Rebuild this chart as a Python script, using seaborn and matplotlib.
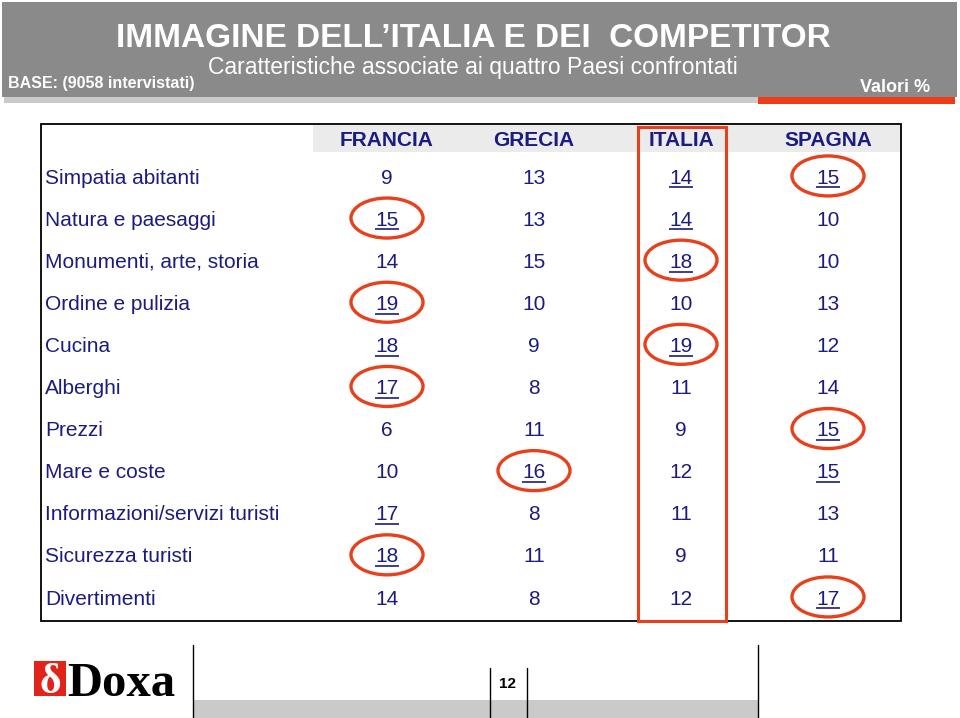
import numpy as np
import pandas as pd
import matplotlib
matplotlib.use("Agg")
import matplotlib.pyplot as plt
import matplotlib.transforms as mtransforms
from matplotlib.colors import ListedColormap
from matplotlib.patches import Rectangle, Ellipse
import seaborn as sns

# data
categories = ['Simpatia abitanti', 'Natura e paesaggi', 'Monumenti, arte, storia',
              'Ordine e pulizia', 'Cucina', 'Alberghi', 'Prezzi', 'Mare e coste',
              'Informazioni/servizi turisti', 'Sicurezza turisti', 'Divertimenti']
countries = ['FRANCIA', 'GRECIA', 'ITALIA', 'SPAGNA']
francia = [9, 15, 14, 19, 18, 17, 6, 10, 17, 18, 14]
grecia = [13, 13, 15, 10, 9, 8, 11, 16, 8, 11, 8]
italia = [14, 14, 18, 10, 19, 11, 9, 12, 11, 9, 12]
spagna = [15, 10, 10, 13, 12, 14, 15, 15, 13, 11, 17]

# (row, column) of underlined and circled values
underlined = [(0, 2), (0, 3), (1, 0), (1, 2), (2, 2), (3, 0), (4, 0), (4, 2),
              (5, 0), (6, 3), (7, 1), (7, 3), (8, 0), (9, 0), (10, 3)]
circled = [(0, 3), (1, 0), (2, 2), (3, 0), (4, 2), (5, 0), (6, 3), (7, 1),
           (9, 0), (10, 3)]

title = "IMMAGINE DELL\u2019ITALIA E DEI  COMPETITOR"
subtitle = "Caratteristiche associate ai quattro Paesi confrontati"
base_txt = "BASE: (9058 intervistati)"
unit_txt = "Valori %"
page_no = "12"

sns.set_theme(style="white")
plt.rcParams['font.family'] = ['Liberation Sans', 'DejaVu Sans']

NAVY = '#1c1c80'
RED = '#e8401c'
W, H = 960, 718

df = pd.DataFrame({'FRANCIA': francia, 'GRECIA': grecia,
                   'ITALIA': italia, 'SPAGNA': spagna}, index=categories)

fig = plt.figure(figsize=(W / 100, H / 100), dpi=100)

# table body as a heatmap (white cells, annotated values)
top, row_h = 157, 42.1
left, col_w = 313.5, 147
n_rows, n_cols = df.shape
hm = fig.add_axes([left / W, 1 - (top + row_h * n_rows) / H,
                   col_w * n_cols / W, row_h * n_rows / H])
sns.heatmap(df, ax=hm, cmap=ListedColormap(['white']), cbar=False,
            annot=True, fmt='d', xticklabels=False, yticklabels=False,
            annot_kws={'color': NAVY, 'fontsize': 15})
hm.tick_params(left=False, bottom=False)

for r, c in underlined:
    hm.plot([c + 0.5 - 0.08, c + 0.5 + 0.08], [r + 0.72, r + 0.72],
            color=NAVY, lw=1.2, clip_on=False, solid_capstyle='butt')
for r, c in circled:
    hm.add_patch(Ellipse((c + 0.5, r + 0.45), 0.49, 0.95, fill=False,
                         edgecolor=RED, lw=2.4, clip_on=False))

# overlay in pixel coordinates for the slide furniture
ax = fig.add_axes([0, 0, 1, 1], zorder=3)
ax.set_xlim(0, W)
ax.set_ylim(H, 0)
ax.axis('off')
ax.patch.set_visible(False)

# header band
ax.add_patch(Rectangle((2, 2), 955, 95, color='#8a8a8a', lw=0))
ax.add_patch(Rectangle((4, 97), 754, 6, color='#cacaca', lw=0))
ax.add_patch(Rectangle((758, 97), 197, 7, color='#f03c14', lw=0))
ax.text(473, 47, title, color='white', fontsize=24, fontweight='bold',
        ha='center', va='baseline')
ax.text(473, 74, subtitle, color='white', fontsize=16.5,
        ha='center', va='baseline')
ax.text(8, 88, base_txt, color='white', fontsize=11.5, fontweight='bold',
        ha='left', va='baseline')
ax.text(930, 92, unit_txt, color='white', fontsize=13, fontweight='bold',
        ha='right', va='baseline')

# table frame and column header
ax.add_patch(Rectangle((313, 125), 587, 27, color='#ebebeb', lw=0))
ax.add_patch(Rectangle((41, 124), 860, 497, fill=False, edgecolor='black', lw=1.3))
for j, name in enumerate(countries):
    ax.text(left + col_w * (j + 0.5), 145.5, name, color=NAVY, fontsize=15,
            fontweight='bold', ha='center', va='baseline')

row_tr = mtransforms.blended_transform_factory(ax.transData, hm.transData)
for i, label in enumerate(categories):
    ax.text(45, i + 0.5, label, color=NAVY, fontsize=15, ha='left',
            va='center', transform=row_tr)

# Italia highlight box
ax.add_patch(Rectangle((638, 127), 88, 494, fill=False, edgecolor=RED, lw=2.2))

# footer
ax.add_patch(Rectangle((193, 700), 565, 18, color='#cacaca', lw=0))
for x, y0 in [(193, 645), (490, 668), (527, 668), (758, 645)]:
    ax.plot([x, x], [y0, H], color='black', lw=1.0)
ax.text(508, 688, page_no, color='black', fontsize=11, fontweight='bold',
        ha='center', va='baseline')

# Doxa logo
ax.add_patch(Rectangle((34, 661), 32, 35, color='#e2231a', lw=0))
ax.text(50, 693, '\u03b4', color='white', fontsize=30, fontweight='bold',
        family=['Liberation Serif', 'DejaVu Serif'], ha='center', va='baseline')
ax.text(67, 696, 'Doxa', color='black', fontsize=35, fontweight='bold',
        family=['Liberation Serif', 'DejaVu Serif'], ha='left', va='baseline')

fig.savefig('out.png', dpi=100)
plt.close(fig)
